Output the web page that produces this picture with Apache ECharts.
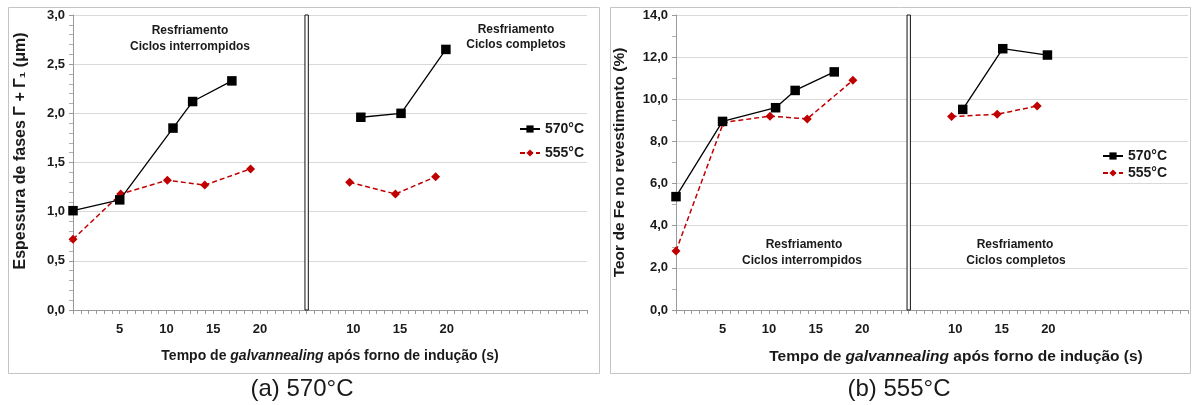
<!DOCTYPE html>
<html>
<head>
<meta charset="utf-8">
<script src="https://cdn.jsdelivr.net/npm/echarts@6/dist/echarts.min.js"></script>
<style>
html,body{margin:0;padding:0;background:#fff;}
#c{width:1194px;height:405px;}
</style>
</head>
<body>
<div id="c"></div>
<script>
// ---- data ----
// section 1 (ciclos interrompidos) times, section 2 (ciclos completos) times in s
var t570Left = [0, 5, 10.7, 12.8, 17];
var t555Left = [0, 5.1, 10.1, 14.1, 19];
var t570Right = [10.8, 15.1, 19.9];
var t555Right = [9.6, 14.5, 18.8];
// (a) thickness of Γ + Γ1 phases (µm)
var a570Left = [1.01, 1.12, 1.85, 2.12, 2.33];
var a555Left = [0.72, 1.18, 1.32, 1.27, 1.435];
var a570Right = [1.96, 2.00, 2.65];
var a555Right = [1.30, 1.18, 1.355];
// (b) Fe content in coating (%)
var b570Left = [5.38, 8.95, 9.6, 10.42, 11.3];
var b555Left = [2.8, 8.9, 9.2, 9.07, 10.9];
var b570Right = [9.52, 12.4, 12.1];
var b555Right = [9.18, 9.29, 9.68];
var tickLabelsLeft = [5, 10, 15, 20];
var tickLabelsRight = [10, 15, 20];
var seriesNames = ['570°C', '555°C'];
var SECOND_SECTION_OFFSET = 20; // axis position = offset + time in the second section
var DIVIDER = 25;

function pairs(ts, vs, off) {
  return ts.map(function (t, i) { return [t + (off || 0), vs[i]]; });
}
function xLabel(v) {
  var r = Math.round(v);
  if (Math.abs(v - r) > 1e-3) return '';
  if (r < DIVIDER && tickLabelsLeft.indexOf(r) >= 0) return String(r);
  if (r > DIVIDER && tickLabelsRight.indexOf(r - SECOND_SECTION_OFFSET) >= 0) return String(r - SECOND_SECTION_OFFSET);
  return '';
}
var FONT = 'Liberation Sans, Arial, sans-serif';
var RED = '#c00000';

function xAxisDef(gi, nameSize, pad) {
  return {
    type: 'value', gridIndex: gi, min: 0, max: 55, interval: 5 / 6,
    splitLine: { show: false },
    axisLine: { lineStyle: { color: '#9a9a9a', width: 1 } },
    axisTick: { show: true, length: 4, lineStyle: { color: '#9a9a9a' } },
    axisLabel: { formatter: xLabel, margin: 13, color: '#1a1a1a', fontWeight: 'bold', fontSize: 13, fontFamily: FONT, showMinLabel: true, showMaxLabel: true },
    name: 'Tempo de {i|galvannealing} após forno de indução (s)',
    nameLocation: 'middle', nameGap: 39,
    nameTextStyle: {
      color: '#1a1a1a', fontWeight: 'bold', fontSize: nameSize, fontFamily: FONT, padding: pad,
      rich: { i: { fontStyle: 'italic', fontWeight: 'bold', fontSize: nameSize, fontFamily: FONT, color: '#1a1a1a' } }
    }
  };
}
function yAxisDef(gi, max, interval, split, name, gap) {
  return {
    type: 'value', gridIndex: gi, min: 0, max: max, interval: interval,
    axisLine: { show: true, lineStyle: { color: '#9a9a9a' } },
    axisTick: { show: true, length: 4, lineStyle: { color: '#9a9a9a' } },
    minorTick: { show: true, splitNumber: split, length: 4, lineStyle: { color: '#b0b0b0' } },
    splitLine: { show: true, lineStyle: { color: '#d9d9d9', width: 1 } },
    axisLabel: { formatter: function (v) { return v.toFixed(1).replace('.', ','); }, margin: 8, color: '#1a1a1a', fontWeight: 'bold', fontSize: 13, fontFamily: FONT },
    name: name, nameLocation: 'middle', nameGap: gap, nameRotate: 90,
    nameTextStyle: { color: '#1a1a1a', fontWeight: 'bold', fontSize: 15.5, fontFamily: FONT }
  };
}
function s570(gi, data, withDivider, ymax) {
  var s = {
    name: seriesNames[0], type: 'line', xAxisIndex: gi, yAxisIndex: gi, data: data,
    symbol: 'rect', symbolSize: 9.5, color: '#000',
    lineStyle: { color: '#000', width: 1.3 }, itemStyle: { color: '#000' },
    animation: false, z: 4
  };
  if (withDivider) {
    s.markArea = {
      silent: true,
      itemStyle: { color: '#fff', borderColor: '#111', borderWidth: 1 },
      data: [[{ xAxis: DIVIDER - 0.18, yAxis: 0 }, { xAxis: DIVIDER + 0.18, yAxis: ymax }]]
    };
  }
  return s;
}
function s555(gi, data) {
  return {
    name: seriesNames[1], type: 'line', xAxisIndex: gi, yAxisIndex: gi, data: data,
    symbol: 'diamond', symbolSize: 9, color: RED,
    lineStyle: { color: RED, width: 1.5, type: [5, 3] }, itemStyle: { color: RED },
    animation: false, z: 3
  };
}
function txt(x, y, s, size, weight) {
  return { type: 'text', x: x, y: y, style: { text: s, fill: '#1a1a1a', font: (weight || 'bold') + ' ' + (size || 12) + 'px ' + FONT, textAlign: 'center', textVerticalAlign: 'middle' } };
}

var chart = echarts.init(document.getElementById('c'), null, { renderer: 'canvas' });
chart.setOption({
  backgroundColor: '#fff',
  animation: false,
  grid: [
    { left: 73, top: 15, width: 514, height: 295 },
    { left: 676, top: 15, width: 512, height: 295 }
  ],
  xAxis: [xAxisDef(0, 14, [0, 0, 0, 0]), xAxisDef(1, 15.5, [0, 0, 0, 48])],
  yAxis: [
    yAxisDef(0, 3, 0.5, 5, '', 46),
    yAxisDef(1, 14, 2, 2, 'Teor de Fe no revestimento (%)', 48)
  ],
  legend: [
    { orient: 'vertical', left: 514, top: 117, itemWidth: 20, itemHeight: 9, itemGap: 10, data: seriesNames,
      textStyle: { color: '#1a1a1a', fontSize: 14, fontWeight: 'bold', fontFamily: FONT }, selectedMode: false },
    { orient: 'vertical', left: 1097, top: 144, itemWidth: 20, itemHeight: 9, itemGap: 3, data: seriesNames,
      textStyle: { color: '#1a1a1a', fontSize: 14, fontWeight: 'bold', fontFamily: FONT }, selectedMode: false }
  ],
  series: [
    s570(0, pairs(t570Left, a570Left), true, 3),
    s570(0, pairs(t570Right, a570Right, SECOND_SECTION_OFFSET)),
    s555(0, pairs(t555Left, a555Left)),
    s555(0, pairs(t555Right, a555Right, SECOND_SECTION_OFFSET)),
    s570(1, pairs(t570Left, b570Left), true, 14),
    s570(1, pairs(t570Right, b570Right, SECOND_SECTION_OFFSET)),
    s555(1, pairs(t555Left, b555Left)),
    s555(1, pairs(t555Right, b555Right, SECOND_SECTION_OFFSET))
  ],
  graphic: [
    { type: 'rect', shape: { x: 8.5, y: 7.5, width: 591, height: 366 }, style: { fill: 'none', stroke: '#c4c4c4', lineWidth: 1 }, z: -1 },
    { type: 'rect', shape: { x: 610.5, y: 7.5, width: 580, height: 366 }, style: { fill: 'none', stroke: '#c4c4c4', lineWidth: 1 }, z: -1 },
    { type: 'text', x: 21, y: 151, rotation: Math.PI / 2,
      style: { text: 'Espessura de fases Γ + Γ₁ (μm)', fill: '#1a1a1a', font: 'bold 16px ' + FONT, textAlign: 'center', textVerticalAlign: 'middle' } },
    txt(190, 31, 'Resfriamento'), txt(190, 47, 'Ciclos interrompidos'),
    txt(516, 30, 'Resfriamento'), txt(516, 45, 'Ciclos completos'),
    txt(804, 245, 'Resfriamento'), txt(802, 261, 'Ciclos interrompidos'),
    txt(1015, 245, 'Resfriamento'), txt(1016, 261, 'Ciclos completos'),
    txt(302, 389, '(a) 570°C', 24, 'normal'),
    txt(899, 389, '(b) 555°C', 24, 'normal')
  ]
});
</script>
</body>
</html>
